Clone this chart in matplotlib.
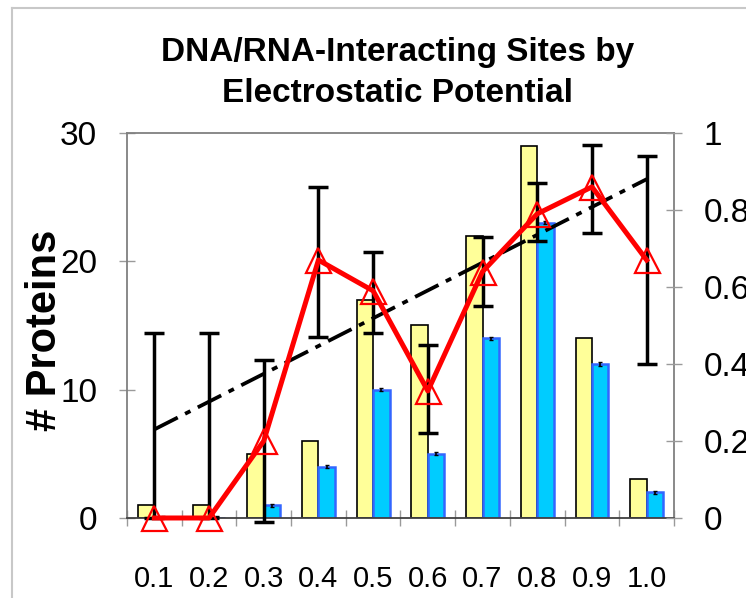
import matplotlib
matplotlib.use('Agg')
import matplotlib.pyplot as plt
from matplotlib.lines import Line2D
import numpy as np

plt.rcParams['font.family'] = ['Liberation Sans', 'DejaVu Sans']

potential = ['0.1', '0.2', '0.3', '0.4', '0.5', '0.6', '0.7', '0.8', '0.9', '1.0']
n_total = [1, 1, 5, 6, 17, 15, 22, 29, 14, 3]
n_interacting = [0, 0, 1, 4, 10, 5, 14, 23, 12, 2]
fraction = [0.0, 0.0, 0.20, 0.67, 0.59, 0.33, 0.64, 0.79, 0.86, 0.67]
frac_low = [0.0, 0.0, -0.01, 0.47, 0.48, 0.22, 0.55, 0.72, 0.74, 0.40]
frac_high = [0.48, 0.48, 0.41, 0.86, 0.69, 0.45, 0.73, 0.87, 0.97, 0.94]
trend_ends = [0.23, 0.88]

x = np.arange(len(potential))
fraction = np.array(fraction)
yerr = [fraction - np.array(frac_low), np.array(frac_high) - fraction]

fig = plt.figure(figsize=(7.46, 5.98), dpi=100)
ax = fig.add_axes([0.1702, 0.1338, 0.7333, 0.6438])

w = 0.3
ax.bar(x - w/2, n_total, w, color='#FFFF99', edgecolor='black', lw=1.2, zorder=2)
ax.bar(x + w/2, n_interacting, w, color='#00CCFF', edgecolor='#3366FF', lw=1.8, zorder=2)
ax.errorbar(x + w/2, n_interacting, yerr=0.12, fmt='none', ecolor='black',
            elinewidth=1.2, capsize=1.2, zorder=3)

ax.set_xlim(-0.5, len(x) - 0.5)
ax.set_ylim(0, 30)
ax.set_yticks([0, 10, 20, 30])
ax.set_xticks(np.arange(-0.5, len(x)))
ax.set_xticklabels([])
ax.set_xticks(x, minor=True)
ax.set_xticklabels(potential, minor=True, fontsize=21)
ax.tick_params(axis='x', which='major', direction='inout', length=11, width=1, color='#9a9a9a')
ax.tick_params(axis='x', which='minor', length=0, pad=34)
ax.tick_params(axis='y', direction='inout', length=11, width=1, color='#9a9a9a',
               labelsize=24, pad=16)
for s in ax.spines.values():
    s.set_color('#808080')
    s.set_linewidth(1.3)
ax.spines['bottom'].set_color('#404040')

ax2 = ax.twinx()
ax2.set_ylim(0, 1)
ax2.set_xlim(-0.5, len(x) - 0.5)
ax2.set_yticks([0, 0.2, 0.4, 0.6, 0.8, 1.0])
ax2.set_yticklabels(['0', '0.2', '0.4', '0.6', '0.8', '1'])
ax2.tick_params(axis='y', direction='inout', length=11, width=1, color='#9a9a9a',
                labelsize=24, pad=16)
for s in ax2.spines.values():
    s.set_visible(False)

ax2.errorbar(x, fraction, yerr=yerr, fmt='none', ecolor='black', elinewidth=2.5,
             capsize=7, capthick=2.5, zorder=3, clip_on=False)
ax2.plot([x[0], x[-1]], trend_ends, color='black', lw=2.7,
         ls=(0, (7, 2.2, 1.6, 2.2)), zorder=4)
ax2.plot(x, fraction, color='#FF0000', lw=3.6, zorder=5, clip_on=False)
ax2.plot(x, fraction, ls='none', marker='^', ms=18, mfc='none', mec='#FF0000',
         mew=1.6, zorder=6, clip_on=False)

fig.text(0.533, 0.878, 'DNA/RNA-Interacting Sites by\nElectrostatic Potential',
         ha='center', va='center', fontsize=24, fontweight='bold', linespacing=1.45)
fig.text(0.060, 1 - 330/598, '# Proteins', rotation=90, ha='center', va='center',
         fontsize=30, fontweight='bold')

fig.add_artist(Line2D([12/746, 12/746], [0, 1 - 8/598], transform=fig.transFigure,
                      color='#c8c8c8', lw=1.5))
fig.add_artist(Line2D([12/746, 1], [1 - 8/598, 1 - 8/598], transform=fig.transFigure,
                      color='#c8c8c8', lw=1.5))

fig.savefig('out.png', dpi=100)
